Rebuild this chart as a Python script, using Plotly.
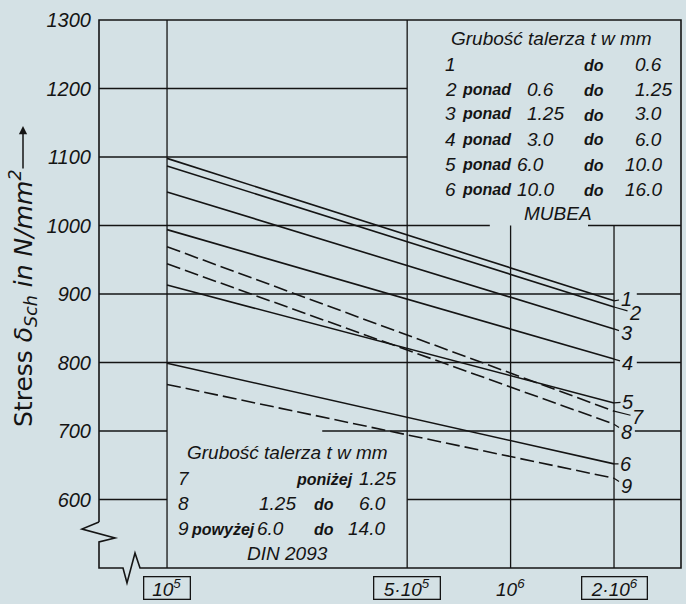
import math
import plotly.graph_objects as go

# ---------------- data ----------------
line_ids = ["1", "2", "3", "4", "5", "6", "7", "8", "9"]
cycles = [1e5, 2e6]                      # N at start / end of every line
stress_start = [1098, 1087, 1049, 994, 913, 799, 969, 944, 768]
stress_end = [890, 881, 849, 805, 741, 652, 729, 710, 631]
dashed = [False, False, False, False, False, False, True, True, True]

y_ticks = [600, 700, 800, 900, 1000, 1100, 1200, 1300]
x_tick_vals = [1e5, 5e5, 1e6, 2e6]
x_tick_text = ["10<sup>5</sup>", "5·10<sup>5</sup>", "10<sup>6</sup>", "2·10<sup>6</sup>"]
x_tick_boxw = [48, 68, 0, 67]           # 0 = no box

upper_title = "Grubość talerza t w mm"
upper_rows = [
    ("1", "", "", "do", "0.6"),
    ("2", "ponad", "0.6", "do", "1.25"),
    ("3", "ponad", "1.25", "do", "3.0"),
    ("4", "ponad", "3.0", "do", "6.0"),
    ("5", "ponad", "6.0", "do", "10.0"),
    ("6", "ponad", "10.0", "do", "16.0"),
]
upper_source = "MUBEA"
lower_title = "Grubość talerza t w mm"
lower_source = "DIN 2093"

# ---------------- layout geometry ----------------
W, H = 686, 604
ML, MR, MT, MB = 99, 5, 20, 36
PW, PH = W - ML - MR, H - MT - MB
XR = [4.802, 6.496]
YR = [500, 1300]
xl, xr = 10 ** XR[0], 10 ** XR[1]

INK = "#141414"
BG = "#d4e1e5"
FONT = "Liberation Sans"


def px(x):
    return (x - ML) / PW


def py(y):
    return (H - MB - y) / PH


fig = go.Figure()

# grid segments (data coordinates)
grid_h = [
    (1200, xl, 5e5), (1100, xl, 5e5),
    (1000, xl, 8.7e5), (1000, 1.68e6, xr),
    (900, xl, 2e6), (900, 2.33e6, xr),
    (800, xl, 2e6), (800, 2.33e6, xr),
    (700, xl, 1e5), (700, 2.83e5, 2e6), (700, 2.3e6, xr),
    (600, xl, 1e5), (600, 5e5, xr),
]
grid_v = [(1e5, 500, 1300), (5e5, 500, 1300), (1e6, 500, 1000), (2e6, 500, 1000)]
gx, gy = [], []
for yv, x0, x1 in grid_h:
    gx += [x0, x1, None]
    gy += [yv, yv, None]
for xv, y0, y1 in grid_v:
    gx += [xv, xv, None]
    gy += [y0, y1, None]
fig.add_trace(go.Scatter(x=gx, y=gy, mode="lines", line=dict(color=INK, width=1.3),
                         hoverinfo="skip", showlegend=False))

# S-N lines
for i, lid in enumerate(line_ids):
    fig.add_trace(go.Scatter(
        x=cycles, y=[stress_start[i], stress_end[i]], mode="lines", name=lid,
        line=dict(color=INK, width=1.6, dash="14px,5px" if dashed[i] else "solid"),
        showlegend=False))

ann = []
# line labels at right end
lab_ax = [12, 21, 12, 13, 14, 12, 24, 12, 12]
lab_ay = [-2, 6, 4, 4, -1, 0, 6, 8, 8]
for i, lid in enumerate(line_ids):
    ann.append(dict(x=math.log10(cycles[1]), y=stress_end[i], xref="x", yref="y",
                    text=lid, showarrow=True, arrowhead=0, arrowwidth=1.2,
                    arrowcolor=INK, ax=lab_ax[i], ay=lab_ay[i], standoff=0,
                    font=dict(family=FONT, size=20, color=INK, style="italic")))

# x tick labels (boxed)
for v, t, bw in zip(x_tick_vals, x_tick_text, x_tick_boxw):
    d = dict(x=math.log10(v), y=py(588), xref="x", yref="paper", text=t,
             showarrow=False, yanchor="middle", xanchor="center",
             font=dict(family=FONT, size=19, color=INK, style="italic"))
    if bw:
        d.update(bordercolor=INK, borderwidth=1.3, borderpad=1,
                 width=bw - 5, height=19)
    ann.append(d)

num_font = dict(family=FONT, size=19, color=INK, style="italic")
word_font = dict(family=FONT, size=16, color=INK, style="italic", weight="bold")
title_font = dict(family=FONT, size=19, color=INK, style="italic")


def txt(x, y, text, font, xanchor="left"):
    ann.append(dict(x=px(x), y=py(y), xref="paper", yref="paper", text=text,
                    showarrow=False, xanchor=xanchor, yanchor="middle", font=font))


# upper legend
txt(551, 38, upper_title, title_font, "center")
row_y = [64, 89, 114, 139, 164, 189]
v1_x = [525, 525, 525, 525, 515, 515]
v2_x = [633, 633, 633, 633, 623, 623]
for (n, w, v1, d, v2), yy, a, b in zip(upper_rows, row_y, v1_x, v2_x):
    txt(443, yy, n, num_font)
    if w:
        txt(460, yy, w, word_font)
    if v1:
        txt(a, yy, v1, num_font)
    txt(594, yy + 1, d, word_font, "center")
    txt(b, yy, v2, num_font)
txt(558, 213, upper_source, num_font, "center")

# lower legend
txt(287, 452, lower_title, title_font, "center")
txt(176, 478, "7", num_font)
txt(294, 479, "poniżej", word_font)
txt(357, 478, "1.25", num_font)
txt(176, 503, "8", num_font)
txt(257, 503, "1.25", num_font)
txt(324, 504, "do", word_font, "center")
txt(357, 503, "6.0", num_font)
txt(176, 528, "9", num_font)
txt(189, 529, "powyżej", word_font)
txt(255, 528, "6.0", num_font)
txt(324, 529, "do", word_font, "center")
txt(346, 528, "14.0", num_font)
txt(287, 553, lower_source, num_font, "center")

# y axis title and arrow
ann.append(dict(x=px(23), y=py(298), xref="paper", yref="paper",
                text="Stress <i>δ<sub>Sch</sub> in N/mm<sup>2</sup></i>",
                textangle=-90, showarrow=False, xanchor="center", yanchor="middle",
                font=dict(family="DejaVu Sans", size=25, color=INK)))
ann.append(dict(x=px(23), y=py(126), xref="paper", yref="paper", text="",
                showarrow=True, ax=0, ay=44, arrowhead=2, arrowsize=1.1,
                arrowwidth=1.5, arrowcolor=INK, standoff=0))

# frame with axis-break symbols
pts = [(99, 522), (99, 20), (681, 20), (681, 568), (140, 568), (135, 553),
       (127, 583), (123, 568), (99, 568), (99, 542), (115, 538), (82, 529), (99, 522)]
path = "M " + " L ".join(f"{px(a):.5f},{py(b):.5f}" for a, b in pts)
shapes = [dict(type="path", path=path, xref="paper", yref="paper",
               line=dict(color=INK, width=1.6))]

fig.update_layout(
    width=W, height=H, margin=dict(l=ML, r=MR, t=MT, b=MB, autoexpand=False),
    paper_bgcolor=BG, plot_bgcolor=BG, showlegend=False,
    annotations=ann, shapes=shapes,
    xaxis=dict(type="log", range=XR, showgrid=False, zeroline=False,
               showline=False, showticklabels=False, ticks=""),
    yaxis=dict(range=YR, showgrid=False, zeroline=False, showline=False,
               tickvals=y_ticks, ticktext=[str(v) for v in y_ticks], ticks="",
               ticklabelstandoff=7,
               tickfont=dict(family=FONT, size=20, color=INK, style="italic")),
)

fig.write_html(
    "out.html",
    config={"displayModeBar": False},
    post_script=f"document.body.style.margin='0';document.body.style.background='{BG}';",
)
